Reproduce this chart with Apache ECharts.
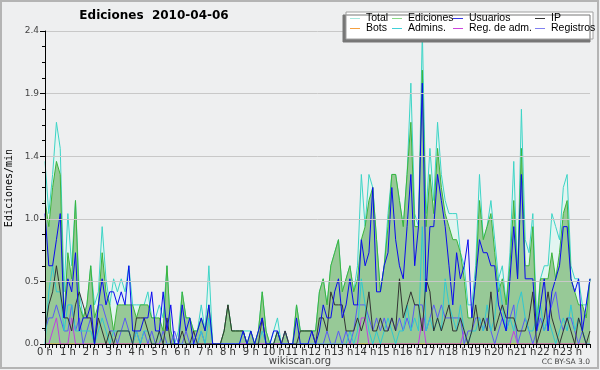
<!DOCTYPE html>
<html><head><meta charset="utf-8">
<script src="https://cdn.jsdelivr.net/npm/echarts@6/dist/echarts.min.js"></script>
<style>html,body{margin:0;padding:0;background:#eeeff0}#c{width:600px;height:370px}</style>
</head><body><div id="c"></div><script>
// 10-minute slots, values in edits/min
const hourLabels = ['0 h','1 h','2 h','3 h','4 h','5 h','6 h','7 h','8 h','9 h','10 h','11 h','12 h','13 h','14 h','15 h','16 h','17 h','18 h','19 h','20 h','21 h','22 h','23 h'];
const yTicks = [0, 0.48, 0.96, 1.44, 1.92, 2.4];

const total = [
1.4,1.0,1.3,1.7,1.5,0.4, 1.0,0.6,1.1,0.4,0.2,0.3, 0.6,0.3,0.4,0.9,0.5,0.3, 0.5,0.4,0.5,0.4,0.6,0.3,
0.3,0.3,0.3,0.4,0.2,0.2, 0.3,0.2,0.6,0.1,0.0,0.1, 0.4,0.2,0.2,0.1,0.1,0.3, 0.1,0.6,0.0,0.0,0.0,0.1,
0.3,0.1,0.1,0.1,0.1,0.1, 0.1,0.0,0.1,0.4,0.1,0.0, 0.1,0.2,0.0,0.1,0.0,0.0, 0.3,0.1,0.1,0.1,0.1,0.1,
0.4,0.5,0.3,0.6,0.7,0.8, 0.4,0.5,0.6,0.4,0.6,1.3, 0.9,1.3,1.2,0.8,0.4,0.6, 1.0,1.3,1.3,1.1,0.9,1.3,
2.0,1.0,0.9,2.4,1.0,1.5, 1.1,1.7,1.3,1.1,1.0,1.0, 1.0,0.7,0.6,0.3,0.3,0.6, 1.3,0.8,0.9,1.1,0.8,0.5,
0.6,0.3,0.7,1.4,0.5,1.8, 0.8,0.7,1.0,0.2,0.5,0.6, 0.6,1.0,0.9,0.8,1.2,1.3, 0.6,0.5,0.5,0.3,0.3,0.5];

const ediciones = [
1.1,0.9,1.2,1.4,1.3,0.2, 0.7,0.5,1.1,0.3,0.2,0.3, 0.6,0.2,0.3,0.7,0.4,0.3, 0.1,0.3,0.3,0.3,0.3,0.3,
0.2,0.3,0.3,0.3,0.2,0.2, 0.2,0.1,0.6,0.1,0.0,0.0, 0.4,0.2,0.2,0.1,0.1,0.2, 0.1,0.3,0.0,0.0,0.0,0.1,
0.3,0.1,0.1,0.1,0.1,0.0, 0.1,0.0,0.1,0.4,0.1,0.0, 0.0,0.1,0.0,0.1,0.0,0.0, 0.3,0.1,0.1,0.1,0.1,0.1,
0.4,0.5,0.3,0.6,0.7,0.8, 0.4,0.5,0.6,0.4,0.5,0.8, 0.9,1.1,1.2,0.8,0.4,0.6, 0.9,1.3,1.3,1.1,0.9,1.3,
1.7,0.9,0.9,2.1,0.9,1.3, 1.0,1.5,1.2,1.0,0.9,0.8, 0.8,0.7,0.5,0.2,0.2,0.5, 1.1,0.8,0.9,1.0,0.7,0.4,
0.5,0.3,0.6,1.1,0.5,1.5, 0.6,0.6,0.9,0.1,0.5,0.5, 0.5,0.7,0.5,0.7,1.0,1.1, 0.5,0.4,0.3,0.3,0.2,0.5];

const usuarios = [
1.0,0.6,0.6,0.8,1.0,0.2, 0.5,0.4,0.7,0.1,0.2,0.2, 0.3,0.0,0.3,0.5,0.3,0.4, 0.4,0.3,0.4,0.3,0.6,0.1,
0.1,0.1,0.2,0.2,0.4,0.1, 0.1,0.4,0.1,0.3,0.0,0.0, 0.3,0.1,0.2,0.0,0.1,0.2, 0.1,0.3,0.0,0.0,0.0,0.0,
0.0,0.0,0.0,0.0,0.1,0.0, 0.1,0.0,0.1,0.2,0.0,0.0, 0.1,0.1,0.0,0.0,0.0,0.0, 0.2,0.0,0.0,0.0,0.1,0.0,
0.1,0.3,0.2,0.2,0.4,0.5, 0.2,0.3,0.5,0.3,0.3,0.8, 0.6,0.7,1.2,0.4,0.4,0.6, 0.7,1.2,0.8,0.6,0.5,0.9,
1.3,0.6,0.9,2.0,0.4,0.9, 0.9,1.3,1.1,0.9,0.6,0.3, 0.7,0.5,0.6,0.8,0.2,0.5, 0.8,0.7,0.7,0.6,0.6,0.3,
0.2,0.1,0.5,0.9,0.5,1.3, 0.5,0.5,0.5,0.1,0.3,0.5, 0.1,0.4,0.5,0.6,0.9,0.9, 0.5,0.4,0.5,0.1,0.3,0.5];

const ip = [
0.1,0.3,0.4,0.6,0.4,0.2, 0.2,0.1,0.3,0.4,0.3,0.2, 0.2,0.0,0.2,0.1,0.0,0.1, 0.0,0.1,0.1,0.1,0.1,0.0,
0.2,0.2,0.2,0.1,0.0,0.0, 0.1,0.0,0.2,0.0,0.0,0.0, 0.1,0.0,0.0,0.1,0.0,0.0, 0.0,0.0,0.0,0.0,0.0,0.1,
0.3,0.1,0.1,0.1,0.1,0.0, 0.0,0.0,0.0,0.2,0.0,0.0, 0.0,0.1,0.0,0.1,0.0,0.0, 0.0,0.1,0.1,0.1,0.1,0.0,
0.2,0.2,0.1,0.4,0.3,0.3, 0.3,0.1,0.1,0.1,0.2,0.1, 0.2,0.4,0.1,0.1,0.2,0.1, 0.1,0.2,0.1,0.5,0.2,0.3,
0.4,0.3,0.3,0.1,0.5,0.4, 0.1,0.2,0.1,0.2,0.3,0.1, 0.1,0.2,0.1,0.0,0.1,0.3, 0.1,0.2,0.1,0.4,0.1,0.2,
0.3,0.2,0.2,0.2,0.1,0.1, 0.1,0.2,0.4,0.0,0.1,0.2, 0.4,0.2,0.1,0.0,0.1,0.2, 0.1,0.0,0.2,0.1,0.0,0.1];

const bots = [
0,0,0,0,0,0, 0,0,0,0,0,0, 0,0,0,0,0,0, 0,0,0,0,0,0, 0,0,0,0,0,0, 0,0,0,0,0,0,
0,0,0,0,0,0, 0,0,0,0,0,0, 0,0,0,0,0,0, 0,0,0,0,0,0, 0,0,0,0,0,0, 0,0,0,0,0,0,
0,0,0,0,0,0, 0,0,0,0,0,0, 0,0,0,0,0,0, 0,0,0,0,0,0, 0,0,0,0,0,0, 0,0,0,0,0,0,
0,0,0,0,0,0, 0,0,0,0,0,0, 0,0,0,0,0,0, 0,0,0,0,0,0, 0,0,0,0,0,0, 0,0,0,0,0,0];

const admins = [
0.0,0.4,0.6,0.4,0.4,0.1, 0.3,0.3,0.1,0.1,0.1,0.1, 0.1,0.0,0.1,0.2,0.1,0.0, 0.1,0.1,0.1,0.1,0.1,0.0,
0.1,0.0,0.1,0.1,0.0,0.0, 0.1,0.0,0.0,0.0,0.0,0.0, 0.0,0.0,0.0,0.0,0.0,0.1, 0.0,0.2,0.0,0.0,0.0,0.0,
0.0,0.0,0.0,0.0,0.1,0.0, 0.0,0.0,0.0,0.1,0.0,0.0, 0.0,0.1,0.0,0.0,0.0,0.0, 0.0,0.0,0.0,0.0,0.0,0.0,
0.0,0.0,0.0,0.0,0.0,0.0, 0.0,0.0,0.1,0.0,0.1,0.5, 0.3,0.1,0.0,0.1,0.0,0.1, 0.2,0.1,0.0,0.1,0.1,0.3,
0.1,0.2,0.1,0.9,0.1,0.2, 0.1,0.2,0.1,0.5,0.3,0.2, 0.1,0.3,0.1,0.0,0.1,0.1, 0.2,0.1,0.3,0.1,0.2,0.5,
0.3,0.1,0.2,0.1,0.3,0.4, 0.2,0.1,0.1,0.2,0.3,0.1, 0.2,0.1,0.0,0.1,0.2,0.1, 0.3,0.1,0.2,0.1,0.0,0.0];

const regAdm = [
0.0,0.0,0.1,0.2,0.0,0.0, 0.0,0.2,0.0,0.0,0.0,0.0, 0,0,0,0,0,0, 0,0,0,0,0,0,
0,0,0,0,0,0, 0,0,0,0,0,0, 0,0,0,0,0,0, 0,0,0,0,0,0,
0,0,0,0,0,0, 0,0,0,0,0,0, 0,0,0,0,0,0, 0,0,0,0,0,0,
0,0,0,0,0,0, 0,0,0,0,0,0.2, 0.2,0,0,0,0,0, 0,0,0,0,0,0,
0,0,0,0.2,0,0, 0,0,0,0,0,0, 0,0,0.1,0,0,0, 0,0,0,0,0,0,
0,0,0,0.1,0,0, 0,0,0,0,0,0, 0,0,0,0,0,0, 0,0,0,0,0,0];

const registros = [
0.1,0.2,0.2,0.3,0.2,0.1, 0.1,0.3,0.1,0.2,0.0,0.1, 0.2,0.0,0.3,0.3,0.2,0.1, 0.1,0.0,0.1,0.2,0.1,0.0,
0.1,0.0,0.1,0.0,0.1,0.0, 0.0,0.1,0.0,0.0,0.1,0.0, 0.0,0.1,0.0,0.0,0.0,0.1, 0,0,0,0,0,0,
0,0,0,0,0,0, 0,0,0,0,0,0, 0,0,0,0.1,0,0, 0,0,0,0,0,0,
0.0,0.0,0.1,0.0,0.0,0.1, 0.0,0.1,0.0,0.1,0.3,0.3, 0.3,0.2,0.1,0.2,0.1,0.2, 0.1,0.2,0.1,0.2,0.1,0.2,
0.1,0.3,0.3,0.3,0.1,0.2, 0.3,0.2,0.3,0.2,0.2,0.2, 0.2,0.2,0.0,0.1,0.1,0.2, 0.2,0.1,0.2,0.1,0.0,0.1,
0.2,0.1,0.2,0.3,0.0,0.1, 0.2,0.1,0.0,0.1,0.2,0.1, 0.2,0.3,0.4,0.2,0.1,0.2, 0.2,0.1,0.0,0.1,0.0,0.0];

const times = [];
for (let h = 0; h < 24; h++) for (let m = 0; m < 60; m += 10) times.push(h + ':' + (m < 10 ? '0' : '') + m);

const chart = echarts.init(document.getElementById('c'), null, {renderer: 'canvas'});

function ser(name, data, color, z, area) {
  const s = {name: name, type: 'line', data: data, color: color, symbol: 'none', showSymbol: false,
    lineStyle: {width: 1, color: color}, z: z, animation: false};
  if (area) s.areaStyle = {color: area, opacity: 1};
  return s;
}

const legendItems = [
  ['Total', 350, 19, '#a6e8e0'], ['Ediciones', 392, 19, '#88d888'], ['Usuarios', 453, 19, '#3535e8'], ['IP', 535, 19, '#333333'],
  ['Bots', 350, 29, '#f5a040'], ['Admins.', 392, 29, '#40d0d8'], ['Reg. de adm.', 453, 29, '#cc44dd'], ['Registros', 535, 29, '#8080f0']
];

const option = {
  backgroundColor: '#eeeff0',
  animation: false,
  grid: {left: 45, right: 10, top: 31, bottom: 26, containLabel: false},
  xAxis: {
    type: 'category', data: times, boundaryGap: false, z: 10,
    axisLine: {lineStyle: {color: '#000', width: 1}},
    axisTick: {interval: 0, length: 4, lineStyle: {color: '#000'}},
    axisLabel: {interval: 5, margin: 3, fontSize: 10, color: '#333', fontFamily: 'DejaVu Sans',
      formatter: function (v, i) { return hourLabels[Math.floor(i / 6)]; }},
    splitLine: {show: false}
  },
  yAxis: {
    type: 'value', min: yTicks[0], max: yTicks[yTicks.length - 1], interval: yTicks[1], z: 10,
    axisLine: {show: true, lineStyle: {color: '#000', width: 1}},
    axisTick: {show: true, length: 5, lineStyle: {color: '#000'}},
    minorTick: {show: true, splitNumber: 4, length: 3, lineStyle: {color: '#000'}},
    axisLabel: {margin: 6, fontSize: 9, color: '#444', fontFamily: 'DejaVu Sans',
      formatter: function (v) { return v.toFixed(1); }},
    splitLine: {show: true, lineStyle: {color: '#c8c8c8', width: 1}}
  },
  legend: legendItems.map(function (it) {
    return {data: [it[0]], left: it[1], top: it[2] - 6, padding: 0, itemGap: 0,
      icon: 'rect', itemWidth: 10, itemHeight: 1, itemStyle: {color: it[3]}, z: 20,
      textStyle: {fontSize: 10.5, color: '#000', fontFamily: 'Liberation Sans', padding: [0, 0, 0, 1]},
      selectedMode: false};
  }),
  graphic: [
    {type: 'rect', z: 15, shape: {x: 346, y: 12, width: 247, height: 27},
      style: {fill: '#fff', stroke: '#a0a0a0', lineWidth: 1, shadowColor: '#777', shadowBlur: 0, shadowOffsetX: -3, shadowOffsetY: 3}},
    {type: 'rect', z: 0, silent: true, shape: {x: 1, y: 1, width: 597, height: 367},
      style: {fill: 'none', stroke: '#b4b4b4', lineWidth: 2}},
    {type: 'text', z: 20, x: 154, y: 10, style: {text: 'Ediciones  2010-04-06', fill: '#000', font: 'bold 12px "DejaVu Sans"', textAlign: 'center'}},
    {type: 'text', z: 20, x: 9, y: 188, rotation: Math.PI / 2, style: {text: 'Ediciones/min', fill: '#000', font: '10px "DejaVu Sans Mono"', textAlign: 'center', textVerticalAlign: 'middle'}},
    {type: 'text', z: 20, x: 300, y: 356, style: {text: 'wikiscan.org', fill: '#444', font: '10px "DejaVu Sans"', textAlign: 'center'}},
    {type: 'text', z: 20, x: 590, y: 358, style: {text: 'CC BY-SA 3.0', fill: '#444', font: '7.5px "DejaVu Sans"', textAlign: 'right'}}
  ],
  series: [
    ser('Total', total, '#3dd4c6', 1, '#e2f5f1'),
    ser('Ediciones', ediciones, '#3cb43c', 2, '#97c997'),
    ser('Bots', bots, '#f5a030', 3),
    ser('Registros', registros, '#5a5af5', 4),
    ser('Reg. de adm.', regAdm, '#c040e0', 5),
    ser('Admins.', admins, '#30c8d0', 6),
    ser('IP', ip, '#333333', 7),
    ser('Usuarios', usuarios, '#0a0aee', 8)
  ]
};
chart.setOption(option);
</script></body></html>
